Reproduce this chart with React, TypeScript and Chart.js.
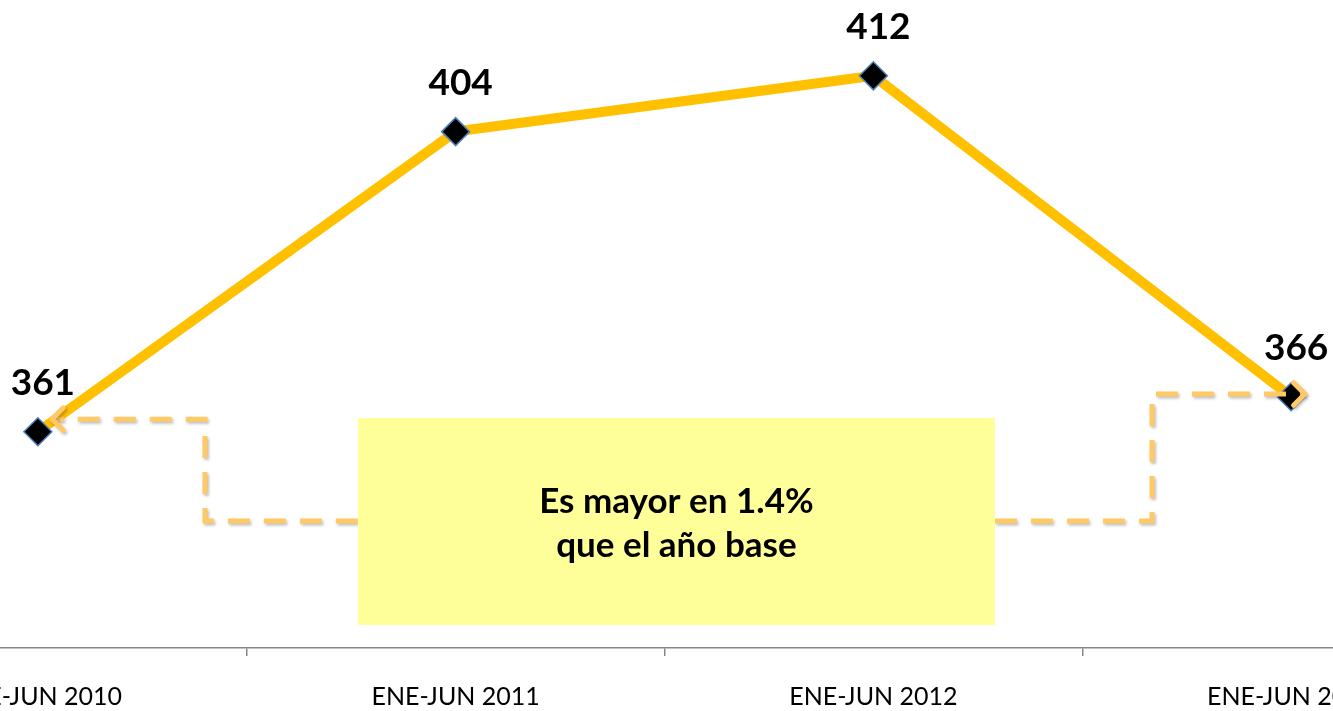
import React, { useEffect, useRef } from "react";
import { Chart, registerables } from "chart.js";

Chart.register(...registerables);

const categories = ["ENE-JUN 2010", "ENE-JUN 2011", "ENE-JUN 2012", "ENE-JUN 2013"];
const values = [361, 404, 412, 366];
const yMin = 330;
const yMax = 420;
const noteLines = ["Es mayor en 1.4%", "que el año base"];
// annotation geometry in data units (x = category index, y = value)
const noteBox = { x0: 0.766, x1: 2.291, y0: 333.3, y1: 362.96 };
const leftArrow = [
  [0.766, 348.2],
  [0.4, 348.2],
  [0.4, 362.8],
  [0.034, 362.8],
];
const rightArrow = [
  [2.291, 348.2],
  [2.667, 348.2],
  [2.667, 366.4],
  [3.033, 366.4],
];

const FONT = "Lato, 'Open Sans', sans-serif";

const overlayPlugin = {
  id: "overlay",
  afterDatasetsDraw(chart: any) {
    const ctx = chart.ctx as CanvasRenderingContext2D;
    const xs = chart.scales.x;
    const ys = chart.scales.y;
    const meta = chart.getDatasetMeta(0);

    // data labels
    ctx.save();
    ctx.fillStyle = "#000";
    ctx.font = `bold 37px ${FONT}`;
    ctx.textAlign = "center";
    ctx.textBaseline = "middle";
    meta.data.forEach((pt: any, i: number) => {
      ctx.fillText(String(values[i]), pt.x + 5, pt.y - 49);
    });
    ctx.restore();

    const px = (p: number[]) => [xs.getPixelForValue(p[0]), ys.getPixelForValue(p[1])];

    const drawArrow = (pts: number[][]) => {
      const P = pts.map(px);
      ctx.save();
      ctx.strokeStyle = "#FFC966";
      ctx.lineWidth = 5;
      ctx.shadowColor = "rgba(0,0,0,0.25)";
      ctx.shadowBlur = 3;
      ctx.shadowOffsetX = 1.5;
      ctx.shadowOffsetY = 2;
      ctx.setLineDash([22, 14]);
      ctx.beginPath();
      ctx.moveTo(P[0][0], P[0][1]);
      for (let i = 1; i < P.length; i++) ctx.lineTo(P[i][0], P[i][1]);
      ctx.stroke();
      ctx.setLineDash([]);
      const a = P[P.length - 2];
      const b = P[P.length - 1];
      const ang = Math.atan2(b[1] - a[1], b[0] - a[0]);
      const L = 16;
      ctx.lineCap = "round";
      ctx.lineJoin = "round";
      ctx.beginPath();
      ctx.moveTo(b[0] - L * Math.cos(ang - Math.PI / 4), b[1] - L * Math.sin(ang - Math.PI / 4));
      ctx.lineTo(b[0], b[1]);
      ctx.lineTo(b[0] - L * Math.cos(ang + Math.PI / 4), b[1] - L * Math.sin(ang + Math.PI / 4));
      ctx.stroke();
      ctx.restore();
    };
    drawArrow(leftArrow);
    drawArrow(rightArrow);

    // note box
    const bx0 = xs.getPixelForValue(noteBox.x0);
    const bx1 = xs.getPixelForValue(noteBox.x1);
    const by0 = ys.getPixelForValue(noteBox.y1);
    const by1 = ys.getPixelForValue(noteBox.y0);
    ctx.save();
    ctx.fillStyle = "#FFFF99";
    ctx.fillRect(bx0, by0, bx1 - bx0, by1 - by0);
    ctx.fillStyle = "#000";
    ctx.font = `bold 35px ${FONT}`;
    ctx.textAlign = "center";
    ctx.textBaseline = "middle";
    const cx = (bx0 + bx1) / 2;
    const cy = (by0 + by1) / 2;
    ctx.fillText(noteLines[0], cx, cy - 20);
    ctx.fillText(noteLines[1], cx, cy + 24);
    ctx.restore();
  },
};

export default function App() {
  const ref = useRef<HTMLCanvasElement>(null);
  useEffect(() => {
    if (!ref.current) return;
    const chart = new Chart(ref.current, {
      type: "line",
      data: {
        labels: categories,
        datasets: [
          {
            data: values,
            borderColor: "#FFC000",
            borderWidth: 10,
            tension: 0,
            pointStyle: "rectRot",
            pointRadius: 14,
            pointBackgroundColor: "#000",
            pointBorderColor: "#4F81BD",
            pointBorderWidth: 1.5,
          },
        ],
      },
      options: {
        animation: false,
        responsive: false,
        events: [],
        layout: { autoPadding: false, padding: { top: 20, left: 0, right: 0, bottom: 2 } },
        plugins: { legend: { display: false }, tooltip: { enabled: false } },
        scales: {
          x: {
            offset: true,
            afterFit(scale: any) {
              scale.height = 61;
              scale.paddingLeft = 0;
              scale.paddingRight = 0;
            },
            grid: {
              offset: true,
              drawOnChartArea: false,
              drawTicks: true,
              tickLength: 8,
              color: "#868686",
              lineWidth: 1.5,
            },
            border: { color: "#868686", width: 1.5 },
            ticks: {
              color: "#000",
              font: { family: FONT, size: 25 },
              padding: 26,
              maxRotation: 0,
              autoSkip: false,
            },
          },
          y: { display: false, min: yMin, max: yMax },
        },
      },
      plugins: [overlayPlugin],
    });
    return () => chart.destroy();
  }, []);
  return (
    <div
      style={{
        position: "fixed",
        left: 0,
        top: 0,
        width: 1333,
        height: 711,
        overflow: "hidden",
        background: "#fff",
      }}
    >
      <div style={{ position: "absolute", left: -171, top: 0, width: 1671, height: 711 }}>
        <canvas ref={ref} width={1671} height={711} style={{ width: 1671, height: 711 }} />
      </div>
    </div>
  );
}
